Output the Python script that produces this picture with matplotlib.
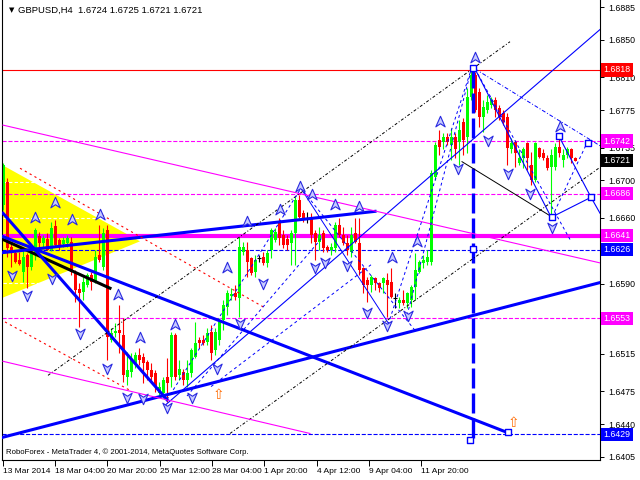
import matplotlib
matplotlib.use("Agg")
import matplotlib.pyplot as plt
import matplotlib.transforms as mtransforms
from matplotlib.path import Path

plt.rcParams['font.family'] = ['Liberation Sans', 'DejaVu Sans']

# ================== Données GBPUSD H4 ==================

opens = [1.6674, 1.6698, 1.6629, 1.6623, 1.6615, 1.6602, 1.6620, 1.6608, 1.6623, 1.6641,
         1.6633, 1.6638, 1.6626, 1.6651, 1.6636, 1.6632, 1.6633, 1.6634, 1.6602, 1.6584,
         1.6581, 1.6588, 1.6599, 1.6592, 1.6620, 1.6608, 1.6647, 1.6530, 1.6537, 1.6540,
         1.6535, 1.6490, 1.6496, 1.6505, 1.6514, 1.6512, 1.6506, 1.6498, 1.6495, 1.6473,
         1.6473, 1.6490, 1.6490, 1.6535, 1.6492, 1.6496, 1.6487, 1.6495, 1.6512, 1.6530,
         1.6530, 1.6528, 1.6538, 1.6519, 1.6530, 1.6551, 1.6565, 1.6577, 1.6580, 1.6575,
         1.6624, 1.6626, 1.6617, 1.6602, 1.6617, 1.6618, 1.6612, 1.6626, 1.6636, 1.6656,
         1.6642, 1.6638, 1.6633, 1.6644, 1.6679, 1.6665, 1.6660, 1.6661, 1.6644, 1.6634,
         1.6644, 1.6629, 1.6626, 1.6628, 1.6652, 1.6642, 1.6633, 1.6624, 1.6644, 1.6633,
         1.6607, 1.6594, 1.6588, 1.6596, 1.6591, 1.6591, 1.6594, 1.6592, 1.6575, 1.6569,
         1.6572, 1.6569, 1.6572, 1.6586, 1.6602, 1.6612, 1.6613, 1.6613, 1.6704, 1.6743,
         1.6741, 1.6746, 1.6738, 1.6746, 1.6741, 1.6762, 1.6746, 1.6789, 1.6812, 1.6794,
         1.6768, 1.6775, 1.6780, 1.6786, 1.6777, 1.6772, 1.6768, 1.6733, 1.6741, 1.6719,
         1.6724, 1.6740, 1.6716, 1.6700, 1.6735, 1.6729, 1.6724, 1.6714, 1.6714, 1.6736,
         1.6722, 1.6727, 1.6733, 1.6724]
highs = [1.6719, 1.6703, 1.6633, 1.6626, 1.6624, 1.6626, 1.6623, 1.6626, 1.6649, 1.6645,
         1.6642, 1.6644, 1.6656, 1.6658, 1.6639, 1.6640, 1.6642, 1.6640, 1.6604, 1.6591,
         1.6597, 1.6601, 1.6602, 1.6626, 1.6652, 1.6649, 1.6652, 1.6543, 1.6548, 1.6567,
         1.6553, 1.6517, 1.6516, 1.6517, 1.6521, 1.6516, 1.6508, 1.6505, 1.6498, 1.6485,
         1.6490, 1.6510, 1.6538, 1.6537, 1.6508, 1.6499, 1.6508, 1.6521, 1.6549, 1.6533,
         1.6535, 1.6543, 1.6546, 1.6543, 1.6553, 1.6572, 1.6583, 1.6585, 1.6588, 1.6640,
         1.6634, 1.6634, 1.6618, 1.6620, 1.6620, 1.6624, 1.6626, 1.6649, 1.6649, 1.6660,
         1.6647, 1.6642, 1.6647, 1.6682, 1.6684, 1.6668, 1.6666, 1.6665, 1.6647, 1.6650,
         1.6647, 1.6631, 1.6633, 1.6656, 1.6660, 1.6650, 1.6642, 1.6650, 1.6660, 1.6660,
         1.6608, 1.6597, 1.6599, 1.6597, 1.6592, 1.6597, 1.6601, 1.6607, 1.6580, 1.6576,
         1.6583, 1.6581, 1.6588, 1.6623, 1.6615, 1.6620, 1.6626, 1.6711, 1.6741, 1.6754,
         1.6751, 1.6751, 1.6756, 1.6751, 1.6764, 1.6767, 1.6799, 1.6818, 1.6816, 1.6799,
         1.6786, 1.6791, 1.6789, 1.6789, 1.6780, 1.6775, 1.6772, 1.6745, 1.6743, 1.6733,
         1.6736, 1.6741, 1.6730, 1.6741, 1.6736, 1.6733, 1.6727, 1.6733, 1.6740, 1.6749,
         1.6733, 1.6736, 1.6735, 1.6725]
lows = [1.6668, 1.6618, 1.6608, 1.6612, 1.6610, 1.6592, 1.6585, 1.6604, 1.6615, 1.6624,
        1.6628, 1.6626, 1.6625, 1.6629, 1.6626, 1.6629, 1.6629, 1.6599, 1.6570, 1.6544,
        1.6572, 1.6586, 1.6583, 1.6591, 1.6613, 1.6604, 1.6508, 1.6528, 1.6533, 1.6516,
        1.6485, 1.6482, 1.6490, 1.6500, 1.6503, 1.6484, 1.6487, 1.6485, 1.6474, 1.6469,
        1.6468, 1.6464, 1.6480, 1.6487, 1.6487, 1.6482, 1.6480, 1.6490, 1.6510, 1.6521,
        1.6524, 1.6524, 1.6508, 1.6514, 1.6524, 1.6540, 1.6556, 1.6572, 1.6572, 1.6554,
        1.6620, 1.6597, 1.6599, 1.6597, 1.6613, 1.6610, 1.6608, 1.6617, 1.6634, 1.6631,
        1.6628, 1.6626, 1.6610, 1.6610, 1.6660, 1.6656, 1.6655, 1.6633, 1.6615, 1.6626,
        1.6624, 1.6624, 1.6620, 1.6624, 1.6640, 1.6631, 1.6620, 1.6618, 1.6633, 1.6599,
        1.6580, 1.6570, 1.6581, 1.6583, 1.6581, 1.6580, 1.6554, 1.6575, 1.6564, 1.6564,
        1.6567, 1.6564, 1.6565, 1.6572, 1.6601, 1.6607, 1.6610, 1.6610, 1.6700, 1.6727,
        1.6733, 1.6738, 1.6722, 1.6724, 1.6716, 1.6727, 1.6729, 1.6786, 1.6773, 1.6757,
        1.6752, 1.6772, 1.6777, 1.6768, 1.6764, 1.6759, 1.6716, 1.6729, 1.6714, 1.6716,
        1.6713, 1.6711, 1.6695, 1.6698, 1.6724, 1.6722, 1.6711, 1.6661, 1.6711, 1.6725,
        1.6714, 1.6724, 1.6719, 1.6721]
closes = [1.6716, 1.6628, 1.6624, 1.6613, 1.6611, 1.6618, 1.6608, 1.6624, 1.6647, 1.6633,
          1.6639, 1.6626, 1.6649, 1.6631, 1.6629, 1.6636, 1.6639, 1.6602, 1.6583, 1.6580,
          1.6592, 1.6599, 1.6592, 1.6618, 1.6615, 1.6644, 1.6533, 1.6537, 1.6539, 1.6537,
          1.6492, 1.6498, 1.6508, 1.6514, 1.6508, 1.6505, 1.6498, 1.6490, 1.6480, 1.6480,
          1.6487, 1.6484, 1.6535, 1.6490, 1.6499, 1.6487, 1.6495, 1.6519, 1.6527, 1.6527,
          1.6527, 1.6537, 1.6516, 1.6538, 1.6549, 1.6567, 1.6580, 1.6579, 1.6576, 1.6629,
          1.6629, 1.6613, 1.6601, 1.6615, 1.6617, 1.6612, 1.6623, 1.6647, 1.6645, 1.6639,
          1.6631, 1.6631, 1.6644, 1.6679, 1.6661, 1.6658, 1.6660, 1.6642, 1.6634, 1.6642,
          1.6628, 1.6626, 1.6629, 1.6652, 1.6642, 1.6633, 1.6626, 1.6642, 1.6634, 1.6604,
          1.6588, 1.6588, 1.6597, 1.6591, 1.6585, 1.6596, 1.6588, 1.6576, 1.6575, 1.6572,
          1.6569, 1.6580, 1.6586, 1.6604, 1.6613, 1.6615, 1.6618, 1.6708, 1.6738, 1.6736,
          1.6746, 1.6741, 1.6746, 1.6733, 1.6754, 1.6743, 1.6789, 1.6812, 1.6775, 1.6768,
          1.6778, 1.6784, 1.6786, 1.6775, 1.6768, 1.6762, 1.6735, 1.6740, 1.6729, 1.6724,
          1.6733, 1.6724, 1.6700, 1.6740, 1.6725, 1.6724, 1.6713, 1.6727, 1.6736, 1.6729,
          1.6727, 1.6733, 1.6724, 1.6721]

# axe du temps (index de barre) et libellés
time_ticks = [0, 13.1, 26.1, 39.2, 52.2, 65.3, 78.4, 91.4, 104.5]
time_labels = ["13 Mar 2014", "18 Mar 04:00", "20 Mar 20:00", "25 Mar 12:00", "28 Mar 04:00",
               "1 Apr 20:00", "4 Apr 12:00", "9 Apr 04:00", "11 Apr 20:00"]
price_ticks = [1.6885, 1.6850, 1.6810, 1.6775, 1.6735, 1.6700, 1.6660, 1.6625,
               1.6590, 1.6550, 1.6515, 1.6475, 1.6440, 1.6405]
# 1.6625 et 1.6550 sont cachés sous les étiquettes des niveaux
price_labels = ["1.6885", "1.6850", "1.6810", "1.6775", "1.6735", "1.6700", "1.6660", "",
                "1.6590", "", "1.6515", "1.6475", "1.6440", "1.6405"]

# niveaux horizontaux (prix, couleur, style, épaisseur)
levels = [
    (1.6818, '#ff0000', '-', 0.8),
    (1.6742, '#ff00ff', '--', 0.8),
    (1.6686, '#ff00ff', '--', 0.8),
    (1.6641, '#ff00ff', '-', 3.0),
    (1.6626, '#0000ff', '--', 0.8),
    (1.6553, '#ff00ff', '--', 0.8),
    (1.6429, '#0000ff', '--', 0.8),
]
level_boxes = [(1.6818, '#ff0000'), (1.6742, '#ff00ff'), (1.6721, '#000000'), (1.6686, '#ff00ff'),
               (1.6641, '#ff00ff'), (1.6626, '#0000ff'), (1.6553, '#ff00ff'), (1.6429, '#0000ff')]

# triangle jaune
tri_x = [0, 0, 34.25]
tri_y = [1.6716, 1.6575, 1.6635]
tri_dash = [(0, 13, 1.6698), (0, 24, 1.6660), (0, 15, 1.6591)]

# objets graphiques : (x0, y0, x1, y1, couleur, style, épaisseur)
segments = [
    (0, 1.6637, 26.75, 1.6585, '#000000', '-', 2.2),
    (0, 1.6665, 41, 1.6466, '#0000ff', '-', 2.2),
    (0, 1.6640, 125.5, 1.6432, '#0000ff', '-', 2.2),
    (0, 1.6623, 93, 1.6667, '#0000ff', '-', 2.2),
    (0, 1.6426, 149.25, 1.6591, '#0000ff', '-', 2.2),
    (117.5, 1.6820, 117.5, 1.6423, '#0000ff', (0, (6, 1.5)), 2.4),
    (40.5, 1.6460, 149.25, 1.6861, '#0000ff', '-', 0.8),
    (118, 1.6819, 137, 1.6661, '#0000ff', '-', 0.8),
    (139, 1.6747, 147, 1.6682, '#0000ff', '-', 0.8),
    (147, 1.6682, 149.25, 1.6665, '#0000ff', '-', 0.8),
    (137.25, 1.6661, 147, 1.6682, '#0000ff', '-', 0.8),
    (114.75, 1.6720, 137.25, 1.6661, '#000000', '-', 0.7),
    (74.25, 1.6693, 96.75, 1.6545, '#0000ff', '-', 0.7),
    (11.25, 1.6492, 126.75, 1.6848, '#000000', (0, (3, 2, 1, 2)), 0.7),
    (56.75, 1.6430, 149.25, 1.6714, '#000000', (0, (3, 2, 1, 2)), 0.7),
    (4.25, 1.6713, 65.5, 1.6564, '#ff0000', (0, (2, 3)), 0.8),
    (0.5, 1.6549, 31.75, 1.6476, '#ff0000', (0, (2, 3)), 0.8),
    (0, 1.6759, 149.25, 1.6612, '#ff00ff', '-', 0.8),
    (0, 1.6507, 76.75, 1.6430, '#ff00ff', '-', 0.8),
    (118, 1.6819, 141.75, 1.6637, '#0000ff', (0, (3, 3)), 0.7),
    (118, 1.6819, 149.25, 1.6737, '#0000ff', (0, (4, 2, 1, 2)), 0.7),
    (41, 1.6466, 74.25, 1.6690, '#0000ff', (0, (3, 3)), 0.7),
    (46, 1.6470, 80, 1.6640, '#0000ff', (0, (3, 3)), 0.7),
    (52, 1.6480, 92, 1.6610, '#0000ff', (0, (3, 3)), 0.7),
    (74.25, 1.6693, 103, 1.6540, '#0000ff', (0, (3, 3)), 0.7),
    (96.25, 1.6546, 117.25, 1.6821, '#0000ff', (0, (3, 3)), 0.7),
    (101, 1.6556, 117.25, 1.6821, '#0000ff', (0, (3, 3)), 0.7),
    (137.25, 1.6661, 146, 1.6740, '#0000ff', (0, (3, 3)), 0.7),
]

squares_x = [117.5, 117.5, 116.75, 126.25, 139, 137.25, 147, 146.25]
squares_y = [1.6820, 1.6627, 1.6423, 1.6432, 1.6747, 1.6661, 1.6682, 1.6740]

up_x = [8.0, 13.0, 17.25, 24.25, 28.75, 34.25, 43.0, 56.0, 61.0, 69.25, 74.25, 77.25,
        83.0, 89.0, 97.25, 103.5, 109.25, 118.0, 139.25]
up_y = [1.6660, 1.6676, 1.6658, 1.6663, 1.6578, 1.6532, 1.6546, 1.6607, 1.6656, 1.6668,
        1.6693, 1.6684, 1.6674, 1.6672, 1.6617, 1.6634, 1.6762, 1.6831, 1.6757]
down_x = [2.25, 6.0, 12.25, 19.25, 26.0, 31.0, 35.0, 41.0, 47.25, 53.5, 59.25, 65.0,
          78.0, 80.5, 86.0, 91.0, 96.0, 101.25, 113.75, 121.25, 126.25, 131.75, 137.25]
down_y = [1.6599, 1.6578, 1.6596, 1.6537, 1.6500, 1.6469, 1.6468, 1.6458, 1.6469, 1.6500,
          1.6548, 1.6591, 1.6608, 1.6613, 1.6610, 1.6560, 1.6546, 1.6556, 1.6713, 1.6743,
          1.6708, 1.6687, 1.6650]
orange_x = [53.75, 127.5]
orange_y = [1.6471, 1.6441]

# ================== Graphique ==================

fig = plt.figure(figsize=(6.4, 4.8), dpi=100)
ax = fig.add_axes([2 / 640, 20 / 480, 598 / 640, 460 / 480])
ax.set_xlim(-0.25, 149.25)
ax.set_ylim(1.64017, 1.68925)

ax.fill(tri_x, tri_y, color='#ffff00', zorder=0, lw=0)
for x0, x1, y in tri_dash:
    ax.plot([x0, x1], [y, y], color='white', ls=(0, (3, 2)), lw=0.8, zorder=0.5)

for y, c, ls, lw in levels:
    ax.axhline(y, color=c, ls=ls, lw=lw, zorder=1)

# chandeliers
for i in range(len(opens)):
    o, h, l, c = opens[i], highs[i], lows[i], closes[i]
    if c > o:
        col = '#00ff00'
    elif c < o:
        col = '#ff0000'
    else:
        col = '#000000'
    ax.vlines(i, l, h, color=col, lw=0.8, zorder=2)
    if c == o:
        ax.hlines(o, i - 0.4, i + 0.4, color=col, lw=0.8, zorder=2)
    else:
        ax.bar(i, abs(c - o), bottom=min(o, c), width=0.75, color=col, lw=0, zorder=2)

for x0, y0, x1, y1, c, ls, lw in segments:
    ax.plot([x0, x1], [y0, y1], color=c, ls=ls, lw=lw, zorder=3)

up_mk = Path([(0, 1), (0.75, -0.7), (0, -0.2), (-0.75, -0.7), (0, 1)],
             [Path.MOVETO, Path.LINETO, Path.LINETO, Path.LINETO, Path.CLOSEPOLY])
down_mk = Path([(0, -1), (0.75, 0.7), (0, 0.2), (-0.75, 0.7), (0, -1)],
               [Path.MOVETO, Path.LINETO, Path.LINETO, Path.LINETO, Path.CLOSEPOLY])
ax.scatter(up_x, up_y, marker=up_mk, s=80, facecolor='#c8ccff', edgecolor='#2a2ae0', lw=0.8, zorder=4)
ax.scatter(down_x, down_y, marker=down_mk, s=80, facecolor='#c8ccff', edgecolor='#2a2ae0', lw=0.8, zorder=4)
ax.scatter(squares_x, squares_y, marker='s', s=14, facecolor='white', edgecolor='#0000ff', lw=1, zorder=5)
for x, y in zip(orange_x, orange_y):
    ax.text(x, y, '\u21e7', color='#ff6a00', fontsize=10, ha='center', va='center',
            family='DejaVu Sans', zorder=5)

# axes façon MetaTrader
ax.spines['top'].set_visible(False)
for s in ['left', 'right', 'bottom']:
    ax.spines[s].set_linewidth(0.8)
ax.yaxis.tick_right()
ax.set_yticks(price_ticks)
ax.set_yticklabels(price_labels)
ax.tick_params(axis='y', direction='out', length=3, width=0.7, labelsize=6.3, pad=3)
ax.set_xticks(time_ticks)
ax.set_xticklabels(time_labels)
ax.tick_params(axis='x', direction='out', length=4, width=0.7, labelsize=6.0, pad=2)
plt.setp(ax.get_xticklabels(), ha='left')

tr = mtransforms.blended_transform_factory(ax.transAxes, ax.transData)
for y, c in level_boxes:
    ax.text(1.006, y, f"{y:.4f}", transform=tr, color='white', fontsize=6.3, va='center', ha='left',
            bbox=dict(boxstyle='square,pad=0.25', facecolor=c, edgecolor='none'), zorder=6,
            clip_on=False)

ax.text(0.012, 0.978, '\u25bc', transform=ax.transAxes, fontsize=5, va='center', ha='left',
        family='DejaVu Sans')
ax.text(0.027, 0.978, "GBPUSD,H4  1.6724 1.6725 1.6721 1.6721", transform=ax.transAxes,
        fontsize=6.8, va='center', ha='left')
ax.text(0.006, 0.018, "RoboForex - MetaTrader 4, \u00a9 2001-2014, MetaQuotes Software Corp.",
        transform=ax.transAxes, fontsize=5.6, va='center', ha='left', zorder=6)

fig.savefig("out.png", dpi=100)
